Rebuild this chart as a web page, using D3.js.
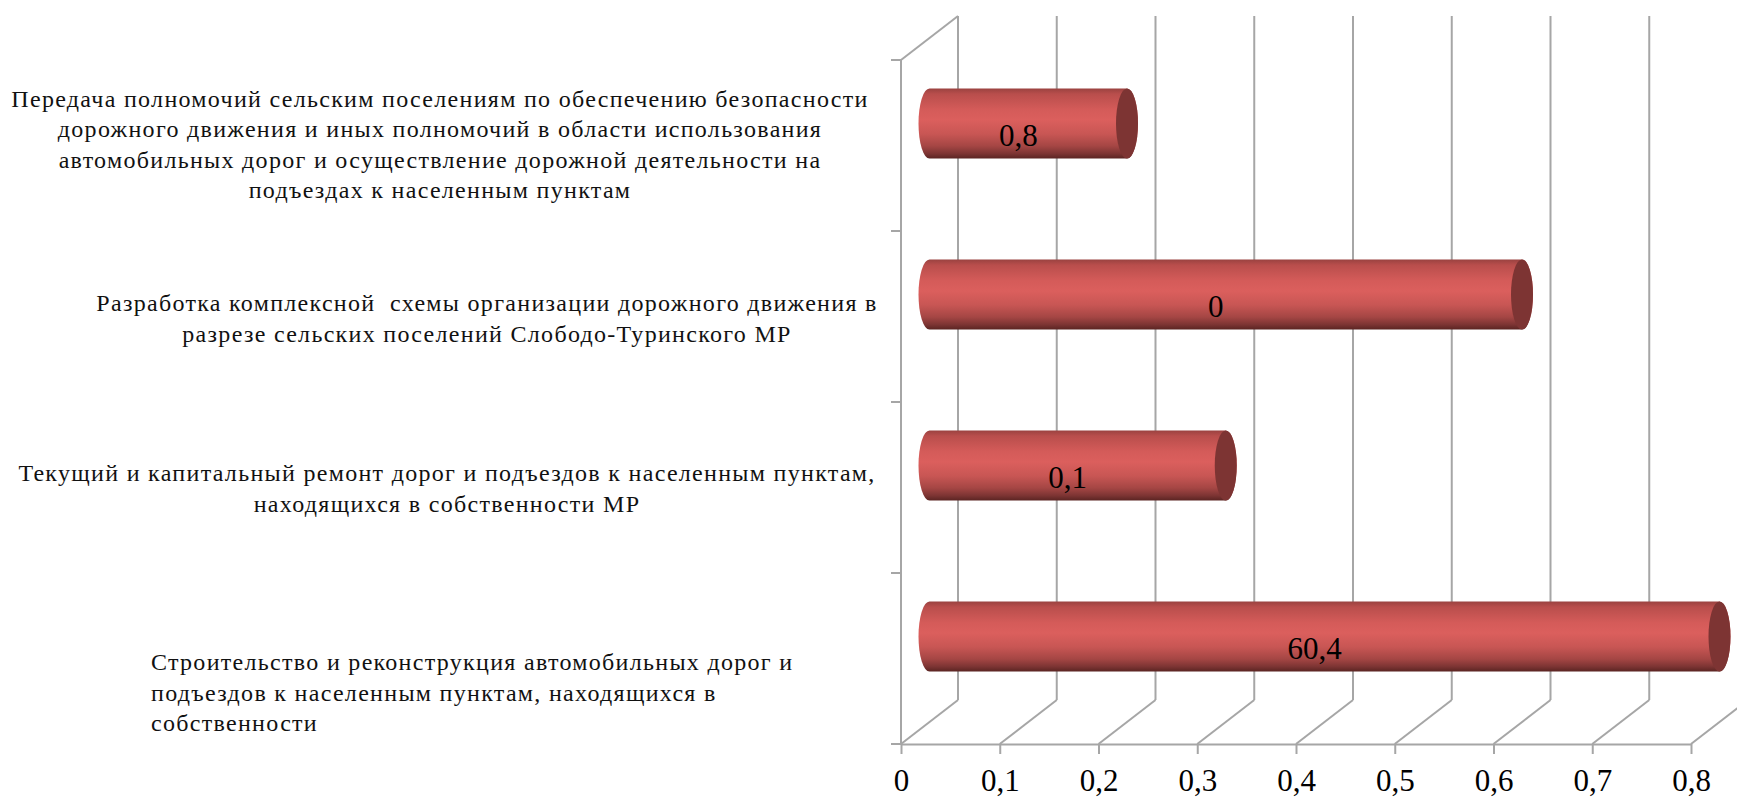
<!DOCTYPE html>
<html>
<head>
<meta charset="utf-8">
<script src="https://cdn.jsdelivr.net/npm/d3@7"></script>
<style>
body { margin: 0; background: #fff; }
</style>
</head>
<body>
<div id="chart"></div>
<script>
// categories, top to bottom
const categories = ["peredacha", "razrabotka", "remont", "stroitelstvo"];

const labelLines = [
    ["Передача полномочий сельским поселениям по обеспечению безопасности",
     "дорожного движения и иных полномочий в области использования",
     "автомобильных дорог и осуществление дорожной деятельности на",
     "подъездах к населенным пунктам"],
    ["Разработка комплексной  схемы организации дорожного движения в",
     "разрезе сельских поселений Слободо-Туринского МР"],
    ["Текущий и капитальный ремонт дорог и подъездов к населенным пунктам,",
     "находящихся в собственности МР"],
    ["Строительство и реконструкция автомобильных дорог и",
     "подъездов к населенным пунктам, находящихся в",
     "собственности"]
];

// bar lengths as drawn against the axis
const barValues = [0.2, 0.6, 0.3, 0.8];
// data labels printed on the bars
const dataLabels = ["0,8", "0", "0,1", "60,4"];

const tickValues = [0, 0.1, 0.2, 0.3, 0.4, 0.5, 0.6, 0.7, 0.8];

const width = 1737, height = 800;
const depthX = 57, depthY = -44;
const gridColor = "#a6a6a6";

const svg = d3.select("#chart")
    .append("svg")
    .attr("width", width)
    .attr("height", height)
    .attr("viewBox", `0 0 ${width} ${height}`);

const x = d3.scaleLinear().domain([0, 0.8]).range([901, 1691]);
const y = d3.scaleBand().domain(categories).range([60, 744]);

const fmt = d3.formatLocale({decimal: ",", thousands: " ", grouping: [3], currency: ["", ""]}).format("~g");

// gradients
const defs = svg.append("defs");
const grad = defs.append("linearGradient")
    .attr("id", "cyl")
    .attr("x1", 0).attr("y1", 0).attr("x2", 0).attr("y2", 1);
[[0, "#9a4240"], [0.08, "#b94e4c"], [0.3, "#d45b59"], [0.45, "#db5f5d"],
 [0.65, "#c85654"], [0.82, "#a54644"], [0.93, "#7c3433"], [1, "#5a2422"]]
    .forEach(s => grad.append("stop").attr("offset", s[0]).attr("stop-color", s[1]));

const grid = svg.append("g")
    .attr("stroke", gridColor)
    .attr("stroke-width", 2)
    .attr("fill", "none");

const floorY = y.range()[1], topY = y.range()[0];

// back wall vertical gridlines
grid.selectAll(".back")
    .data(tickValues)
    .enter().append("line")
    .attr("x1", d => x(d) + depthX).attr("x2", d => x(d) + depthX)
    .attr("y1", floorY + depthY).attr("y2", topY + depthY);

// floor diagonals
grid.selectAll(".floor")
    .data(tickValues)
    .enter().append("line")
    .attr("x1", d => x(d)).attr("x2", d => x(d) + depthX)
    .attr("y1", floorY).attr("y2", floorY + depthY);

// left wall
grid.append("line")
    .attr("x1", x(0)).attr("x2", x(0))
    .attr("y1", topY).attr("y2", floorY);
grid.append("line")
    .attr("x1", x(0)).attr("x2", x(0) + depthX)
    .attr("y1", topY).attr("y2", topY + depthY);

// category boundary ticks
grid.selectAll(".ytick")
    .data(categories.map(c => y(c)).concat([floorY]))
    .enter().append("line")
    .attr("x1", x(0) - 10).attr("x2", x(0))
    .attr("y1", d => d).attr("y2", d => d);

// bottom axis
const xAxis = svg.append("g")
    .attr("transform", `translate(0,${floorY})`)
    .call(d3.axisBottom(x)
        .tickValues(tickValues)
        .tickFormat(fmt)
        .tickSize(10)
        .tickSizeOuter(0)
        .tickPadding(15));
xAxis.select(".domain").attr("stroke", gridColor).attr("stroke-width", 2);
xAxis.selectAll(".tick line").attr("stroke", gridColor).attr("stroke-width", 2);
xAxis.selectAll(".tick text")
    .attr("fill", "#000")
    .attr("font-family", "Liberation Serif")
    .attr("font-size", 31);

// bars (cylinders) sit at mid depth
const barH = y.bandwidth() * 0.41;
const rx = 11;
const bars = svg.append("g")
    .selectAll(".bar")
    .data(categories.map((c, i) => ({c, v: barValues[i], label: dataLabels[i]})))
    .enter().append("g")
    .attr("transform", d => `translate(${depthX / 2},${y(d.c) + y.bandwidth() / 2 + depthY / 2})`);

bars.append("path")
    .attr("fill", "url(#cyl)")
    .attr("d", d => {
        const x0 = x(0), x1 = x(d.v), h = barH / 2;
        return `M${x0},${-h} L${x1},${-h} A${rx},${h} 0 0 1 ${x1},${h} L${x0},${h} A${rx},${h} 0 0 1 ${x0},${-h} Z`;
    });

bars.append("ellipse")
    .attr("cx", d => x(d.v))
    .attr("cy", 0)
    .attr("rx", rx)
    .attr("ry", barH / 2)
    .attr("fill", "#7d3433");

bars.append("text")
    .attr("x", d => (x(0) + x(d.v)) / 2 - 10)
    .attr("y", 22)
    .attr("text-anchor", "middle")
    .attr("font-family", "Liberation Serif")
    .attr("font-size", 31)
    .attr("fill", "#000")
    .text(d => d.label);

// category labels
const labelX = [440, 487, 447, 151];
const labelAnchor = ["middle", "middle", "middle", "start"];
const labelShift = [0, 3, 2, 35];
const lineH = 30.5;

svg.append("g")
    .selectAll(".cat")
    .data(categories)
    .enter().append("text")
    .attr("font-family", "Liberation Serif")
    .attr("font-size", 24)
    .attr("letter-spacing", 1.3)
    .attr("fill", "#111")
    .attr("text-anchor", (d, i) => labelAnchor[i])
    .each(function(d, i) {
        const lines = labelLines[i];
        const cy = y(d) + y.bandwidth() / 2 + labelShift[i];
        const start = cy - (lines.length - 1) * lineH / 2 + 7;
        d3.select(this).selectAll("tspan")
            .data(lines)
            .enter().append("tspan")
            .attr("x", labelX[i])
            .attr("y", (l, j) => start + j * lineH)
            .attr("xml:space", "preserve")
            .text(l => l);
    });
</script>
</body>
</html>
